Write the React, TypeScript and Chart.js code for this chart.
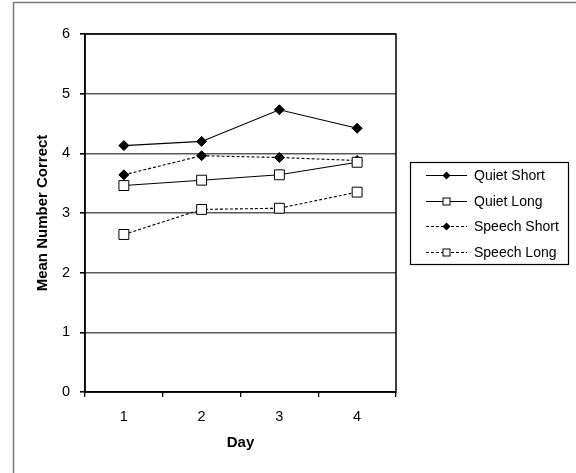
import React, { useEffect, useRef } from "react";
import { Chart, registerables } from "chart.js";

Chart.register(...registerables);

const days = ["1", "2", "3", "4"];
const quietShort = [4.13, 4.2, 4.73, 4.42];
const quietLong = [3.46, 3.55, 3.64, 3.85];
const speechShort = [3.64, 3.96, 3.93, 3.88];
const speechLong = [2.64, 3.06, 3.08, 3.35];
const seriesNames = ["Quiet Short", "Quiet Long", "Speech Short", "Speech Long"];
const yTicks = [0, 1, 2, 3, 4, 5, 6];

const FONT = "'Liberation Sans', Arial, sans-serif";

function drawMarker(ctx: CanvasRenderingContext2D, style: string, x: number, y: number, r: number) {
  ctx.save();
  ctx.setLineDash([]);
  ctx.lineWidth = 1;
  ctx.strokeStyle = "#000";
  if (style === "rectRot") {
    ctx.fillStyle = "#000";
    ctx.beginPath();
    ctx.moveTo(x, y - r);
    ctx.lineTo(x + r, y);
    ctx.lineTo(x, y + r);
    ctx.lineTo(x - r, y);
    ctx.closePath();
    ctx.fill();
  } else {
    ctx.fillStyle = "#fff";
    ctx.fillRect(x - r, y - r, 2 * r, 2 * r);
    ctx.strokeRect(x - r, y - r, 2 * r, 2 * r);
  }
  ctx.restore();
}

const framePlugin = {
  id: "framePlugin",
  beforeDatasetsDraw(chart: any) {
    const { ctx, chartArea: a } = chart;
    ctx.save();
    ctx.strokeStyle = "#000";
    ctx.lineWidth = 1.5;
    ctx.strokeRect(Math.round(a.left), Math.round(a.top), Math.round(a.right - a.left), Math.round(a.bottom - a.top));
    ctx.restore();
  },
  afterDraw(chart: any) {
    const { ctx } = chart;
    ctx.save();
    // outer chart frame (cropped)
    ctx.strokeStyle = "#7a7a7a";
    ctx.lineWidth = 1.5;
    ctx.beginPath();
    ctx.moveTo(13.5, 473);
    ctx.lineTo(13.5, 2.5);
    ctx.lineTo(576, 2.5);
    ctx.stroke();
    // legend box
    const bx = 410.5, by = 162.5, bw = 158, bh = 102;
    ctx.fillStyle = "#fff";
    ctx.fillRect(bx, by, bw, bh);
    ctx.strokeStyle = "#000";
    ctx.lineWidth = 1.2;
    ctx.strokeRect(bx, by, bw, bh);
    const rows = [175, 200.5, 226, 251.5];
    chart.data.datasets.forEach((ds: any, i: number) => {
      const y = Math.round(rows[i]) + 0.5;
      ctx.strokeStyle = "#000";
      ctx.lineWidth = 1;
      ctx.setLineDash(ds.borderDash || []);
      ctx.beginPath();
      ctx.moveTo(426, y);
      ctx.lineTo(467, y);
      ctx.stroke();
      ctx.setLineDash([]);
      drawMarker(ctx, ds.pointStyle, 446.5, y, ds.pointStyle === "rectRot" ? 4 : 3.5);
      ctx.fillStyle = "#000";
      ctx.font = `14px ${FONT}`;
      ctx.textAlign = "left";
      ctx.textBaseline = "middle";
      ctx.fillText(ds.label, 474, y + 0.5);
    });
    ctx.restore();
  },
};

export default function App() {
  const ref = useRef<HTMLCanvasElement | null>(null);
  useEffect(() => {
    if (!ref.current) return;
    const mk = (label: string, data: number[], style: string, dashed: boolean) => ({
      label,
      data,
      borderColor: "#000",
      borderWidth: 1.1,
      borderDash: dashed ? [3, 2] : [],
      pointStyle: style,
      pointRadius: style === "rectRot" ? 5 : 7,
      pointBackgroundColor: style === "rectRot" ? "#000" : "#fff",
      pointBorderColor: "#000",
      pointBorderWidth: 1,
      fill: false,
      tension: 0,
    });
    const chart = new Chart(ref.current, {
      type: "line",
      data: {
        labels: days,
        datasets: [
          mk(seriesNames[0], quietShort, "rectRot", false),
          mk(seriesNames[1], quietLong, "rect", false),
          mk(seriesNames[2], speechShort, "rectRot", true),
          mk(seriesNames[3], speechLong, "rect", true),
        ],
      },
      options: {
        animation: false,
        responsive: false,
        devicePixelRatio: 1,
        layout: { padding: { left: 0, top: 34, right: 180, bottom: 0 } },
        plugins: { legend: { display: false }, tooltip: { enabled: false } },
        scales: {
          x: {
            type: "category",
            offset: true,
            grid: { offset: true, drawOnChartArea: false, drawTicks: true, tickLength: 5, color: "#000", lineWidth: 1.3 },
            border: { color: "#000", width: 1.5 },
            ticks: { color: "#000", padding: 11, font: { family: FONT, size: 14.5 } },
            title: {
              display: true,
              text: "Day",
              color: "#000",
              font: { family: FONT, size: 15, weight: "bold" },
              padding: { top: 0, bottom: 21.5 },
            },
            afterFit: (s: any) => {
              s.height = 81;
            },
          },
          y: {
            min: 0,
            max: 6,
            afterBuildTicks: (s: any) => {
              s.ticks = yTicks.map((v) => ({ value: v }));
            },
            grid: { color: "#5a5a5a", tickColor: "#000", tickLength: 5, lineWidth: 1.6 },
            border: { color: "#000", width: 1.5 },
            ticks: { color: "#000", padding: 10, font: { family: FONT, size: 14.5 } },
            title: {
              display: true,
              text: "Mean Number Correct",
              color: "#000",
              font: { family: FONT, size: 15, weight: "bold" },
              padding: { top: 34, bottom: 0 },
            },
            afterFit: (s: any) => {
              s.width = 85;
            },
          },
        },
      },
      plugins: [framePlugin],
    } as any);
    return () => chart.destroy();
  }, []);
  return (
    <div style={{ position: "absolute", left: 0, top: 0, width: 576, height: 473, background: "#fff" }}>
      <canvas ref={ref} width={576} height={473} />
    </div>
  );
}
